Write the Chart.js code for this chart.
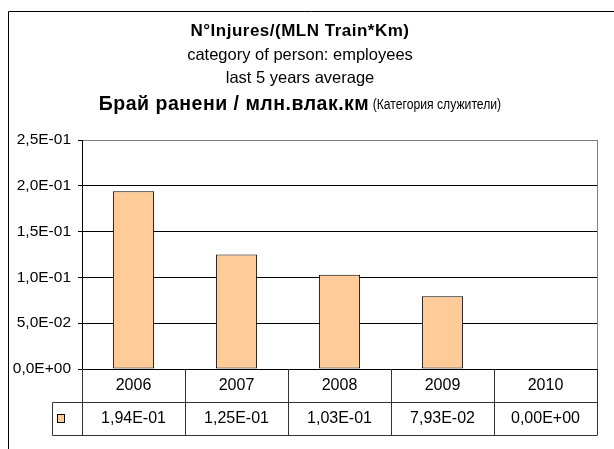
<!DOCTYPE html>
<html>
<head>
<meta charset="utf-8">
<script src="https://cdn.jsdelivr.net/npm/chart.js@4.4.1/dist/chart.umd.min.js"></script>
<style>
html,body{margin:0;padding:0;background:#fff;}
#wrap{width:614px;height:449px;position:relative;}
</style>
</head>
<body>
<div id="wrap"><canvas id="c" width="614" height="449"></canvas></div>
<script>
const categories = ['2006', '2007', '2008', '2009', '2010'];
const values = [0.194, 0.125, 0.103, 0.0793, 0.0];
const titleLines = ['N°Injures/(MLN Train*Km)', 'category of person: employees', 'last 5 years average'];
const subtitleBold = 'Брай ранени / млн.влак.км';
const subtitleRegular = ' (Категория служители)';

const FONT = '"Liberation Sans", Arial, sans-serif';

function fmtExp(v, digits) {
  let s = v.toExponential(digits);
  let [m, e] = s.split('e');
  let sign = e[0] === '-' ? '-' : '+';
  let n = Math.abs(parseInt(e, 10));
  return m.replace('.', ',') + 'E' + sign + (n < 10 ? '0' + n : '' + n);
}

const framePlugin = {
  id: 'frame',
  beforeDraw(chart) {
    const ctx = chart.ctx;
    ctx.save();
    ctx.fillStyle = '#fff';
    ctx.fillRect(0, 0, chart.width, chart.height);
    ctx.strokeStyle = '#000';
    ctx.lineWidth = 1;
    ctx.beginPath();
    ctx.moveTo(8.5, 449);
    ctx.lineTo(8.5, 11.5);
    ctx.lineTo(614, 11.5);
    ctx.stroke();
    ctx.restore();
  },
  afterDraw(chart) {
    const ctx = chart.ctx;
    const area = chart.chartArea;
    const x = chart.scales.x;
    ctx.save();
    // titles
    ctx.fillStyle = '#000';
    ctx.textAlign = 'center';
    ctx.textBaseline = 'middle';
    const cx = 300;
    ctx.font = 'bold 17px ' + FONT;
    ctx.letterSpacing = '0.5px';
    ctx.fillText(titleLines[0], cx, 31);
    ctx.letterSpacing = '0px';
    ctx.font = '16.5px ' + FONT;
    ctx.fillText(titleLines[1], cx, 55);
    ctx.fillText(titleLines[2], cx, 78);

    const boldFont = 'bold 19.5px ' + FONT;
    const regFont = '14px ' + FONT;
    const regScale = 0.87;
    ctx.font = boldFont;
    ctx.letterSpacing = '0.5px';
    const wb = ctx.measureText(subtitleBold).width;
    ctx.font = regFont;
    ctx.letterSpacing = '0px';
    const wr = ctx.measureText(subtitleRegular).width * regScale;
    const sx = cx - (wb + wr) / 2;
    ctx.textAlign = 'left';
    ctx.font = boldFont;
    ctx.letterSpacing = '0.5px';
    ctx.fillText(subtitleBold, sx, 105);
    ctx.letterSpacing = '0px';
    ctx.font = regFont;
    ctx.save();
    ctx.translate(sx + wb, 105);
    ctx.scale(regScale, 1);
    ctx.fillText(subtitleRegular, 0, 0);
    ctx.restore();

    // plot area right border (grey)
    ctx.strokeStyle = '#808080';
    ctx.lineWidth = 1;
    ctx.beginPath();
    ctx.moveTo(Math.round(area.right) + 0.5, area.top);
    ctx.lineTo(Math.round(area.right) + 0.5, area.bottom);
    ctx.stroke();

    // data table
    const n = categories.length;
    const step = x.getPixelForValue(1) - x.getPixelForValue(0);
    const top = Math.round(area.bottom);
    const r1 = top + 33;
    const r2 = top + 66;
    const legL = 52;
    ctx.strokeStyle = '#333';
    ctx.beginPath();
    for (let i = 0; i <= n; i++) {
      const bx = Math.round(x.getPixelForValue(0) - step / 2 + i * step) + 0.5;
      ctx.moveTo(bx, top);
      ctx.lineTo(bx, r2);
    }
    ctx.moveTo(legL + 0.5, r1 + 0.5);
    ctx.lineTo(Math.round(area.right) + 0.5, r1 + 0.5);
    ctx.moveTo(legL + 0.5, r2 + 0.5);
    ctx.lineTo(Math.round(area.right) + 0.5, r2 + 0.5);
    ctx.moveTo(legL + 0.5, r1 + 0.5);
    ctx.lineTo(legL + 0.5, r2 + 0.5);
    ctx.stroke();

    // legend key
    ctx.fillStyle = '#FFCC99';
    ctx.fillRect(57.5, 414.5, 7, 8);
    ctx.strokeStyle = '#000';
    ctx.strokeRect(57.5, 414.5, 7, 8);

    ctx.fillStyle = '#000';
    ctx.textAlign = 'center';
    ctx.font = '16px ' + FONT;
    for (let i = 0; i < n; i++) {
      const px = x.getPixelForValue(i);
      ctx.fillText(categories[i], px, top + 17);
      ctx.fillText(fmtExp(values[i], 2), px, r1 + 17);
    }
    ctx.restore();
  }
};

new Chart(document.getElementById('c'), {
  type: 'bar',
  data: {
    labels: categories,
    datasets: [{
      data: values,
      backgroundColor: '#FFCC99',
      borderColor: '#000',
      borderWidth: 1,
      borderSkipped: false,
      categoryPercentage: 1,
      barPercentage: 0.4
    }]
  },
  options: {
    responsive: false,
    animation: false,
    devicePixelRatio: 1,
    layout: { padding: { top: 140, bottom: 80, left: 0, right: 17 } },
    plugins: {
      legend: { display: false },
      title: { display: false },
      tooltip: { enabled: false }
    },
    scales: {
      x: {
        display: false,
        offset: true
      },
      y: {
        min: 0,
        max: 0.25,
        afterFit(scale) { scale.width = 82; },
        ticks: {
          stepSize: 0.05,
          color: '#000',
          padding: 7,
          font: { family: FONT, size: 15.5 },
          callback: (v) => fmtExp(v, 1)
        },
        grid: {
          color: (c) => (c.tick && Math.abs(c.tick.value - 0.25) < 1e-9) ? '#808080' : '#000',
          tickColor: '#000',
          tickLength: 4,
          lineWidth: 1
        },
        border: { color: '#000', width: 1 }
      }
    }
  },
  plugins: [framePlugin]
});
</script>
</body>
</html>
